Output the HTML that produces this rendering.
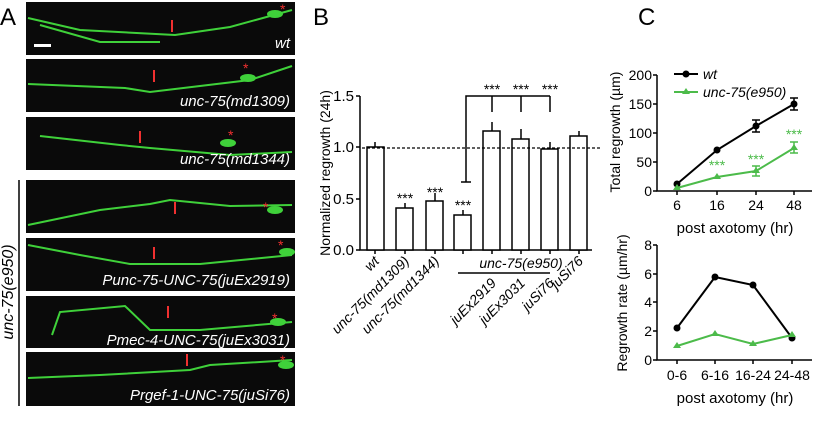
<!DOCTYPE html>
<html><head><meta charset="utf-8"><style>
html,body{margin:0;padding:0;background:#fff;}
svg{display:block;font-family:"Liberation Sans",Arial,sans-serif;}
</style></head><body>
<svg width="818" height="430" viewBox="0 0 818 430" xmlns="http://www.w3.org/2000/svg">
<!-- Panel A -->
<text x="0" y="25" font-size="24">A</text>
<g fill="#0a0a0a">
<rect x="26" y="2" width="269" height="53"/>
<rect x="26" y="59" width="269" height="53"/>
<rect x="26" y="117" width="269" height="53"/>
<rect x="26" y="180" width="269" height="53"/>
<rect x="26" y="238" width="269" height="53"/>
<rect x="26" y="296" width="269" height="52"/>
<rect x="26" y="352" width="269" height="54"/>
</g>
<g stroke="#3fd13a" fill="none" stroke-width="2">
<path d="M28,18 L80,30 L175,35 L230,27 L292,10"/>
<path d="M40,25 L100,42 L160,42"/>
<path d="M28,84 L125,88 L150,92 L200,86 L250,80 L292,66"/>
<path d="M40,136 L120,145 L150,148 L230,155 L292,152"/>
<path d="M28,225 L100,210 L150,204 L170,200 L230,206 L292,205"/>
<path d="M28,245 L80,255 L130,264 L200,264 L292,255"/>
<path d="M52,335 L60,312 L125,306 L150,330 L200,330 L292,322"/>
<path d="M28,378 L100,375 L190,370 L210,365 L292,360"/>
</g>
<g fill="#3fd13a"><ellipse cx="275" cy="14" rx="8" ry="4"/><ellipse cx="248" cy="78" rx="8" ry="4"/><ellipse cx="228" cy="143" rx="8" ry="4"/><ellipse cx="275" cy="210" rx="8" ry="4"/><ellipse cx="287" cy="252" rx="8" ry="4"/><ellipse cx="278" cy="322" rx="8" ry="4"/><ellipse cx="286" cy="365" rx="8" ry="4"/></g>
<g fill="#f03030" font-size="14">
<text x="280" y="14">*</text><text x="243" y="73">*</text><text x="228" y="140">*</text><text x="263" y="212">*</text><text x="278" y="250">*</text><text x="272" y="323">*</text><text x="280" y="365">*</text>
</g>
<g stroke="#f03030" stroke-width="2"><path d="M172,20v12M154,70v12M140,131v12M175,214v-12M154,247v12M168,306v12M187,354v12"/></g>
<rect x="34" y="44" width="17" height="3" fill="#fff"/>
<g fill="#fff" font-size="15" font-style="italic" text-anchor="end">
<text x="290" y="48">wt</text>
<text x="290" y="106">unc-75(md1309)</text>
<text x="290" y="164">unc-75(md1344)</text>
<text x="290" y="285">Punc-75-UNC-75(juEx2919)</text>
<text x="290" y="345">Pmec-4-UNC-75(juEx3031)</text>
<text x="290" y="400">Prgef-1-UNC-75(juSi76)</text>
</g>
<line x1="19" y1="180" x2="19" y2="406" stroke="#000" stroke-width="1.5"/>
<text transform="translate(13,292) rotate(-90)" font-size="16" font-style="italic" text-anchor="middle">unc-75(e950)</text>

<!-- Panel B -->
<text x="313" y="25" font-size="24">B</text>
<text transform="translate(330,173) rotate(-90)" font-size="14" text-anchor="middle">Normalized regrowth (24h)</text>
<g stroke="#000" stroke-width="1.5" fill="none">
<path d="M360,96V250H592"/>
<path d="M356,96h4M356,147h4M356,199h4M356,250h4"/>
<path d="M375,250v4M405,250v4M435,250v4M463,250v4M492,250v4M521,250v4M550,250v4M579,250v4"/>
</g>
<g fill="#000" font-size="15" text-anchor="end">
<text x="354" y="101">1.5</text><text x="354" y="152">1.0</text><text x="354" y="204">0.5</text><text x="354" y="255">0.0</text>
</g>
<g stroke="#000" stroke-width="1.5" fill="#fff">
<rect x="367" y="147" width="17" height="103"/>
<rect x="396" y="208" width="17" height="42"/>
<rect x="426" y="201" width="17" height="49"/>
<rect x="454" y="215" width="17" height="35"/>
<rect x="483" y="131" width="17" height="119"/>
<rect x="512" y="139" width="17" height="111"/>
<rect x="541" y="149" width="17" height="101"/>
<rect x="570" y="136" width="17" height="114"/>
</g>
<g stroke="#000" stroke-width="1.5" fill="none">
<path d="M375,147v-5M405,208v-5M435,201v-8M463,215v-5M492,131v-9M521,139v-10M550,149v-7M579,136v-5"/>
<path d="M461,182h10M466,182V96H550M492,96v16M521,96v16M550,96v16"/>
</g>
<line x1="362" y1="148" x2="600" y2="148" stroke="#000" stroke-width="1.2" stroke-dasharray="3,2"/>
<g font-size="14" text-anchor="middle" fill="#000">
<text x="405" y="203">***</text><text x="435" y="197">***</text><text x="463" y="210">***</text>
<text x="492" y="94">***</text><text x="521" y="94">***</text><text x="550" y="94">***</text>
</g>
<g font-size="14" font-style="italic" text-anchor="end" fill="#000">
<text transform="translate(380,262) rotate(-45)">wt</text>
<text transform="translate(410,262) rotate(-45)">unc-75(md1309)</text>
<text transform="translate(440,262) rotate(-45)">unc-75(md1344)</text>
<text transform="translate(497,284) rotate(-45)">juEx2919</text>
<text transform="translate(526,284) rotate(-45)">juEx3031</text>
<text transform="translate(555,284) rotate(-45)">juSi76</text>
<text transform="translate(584,262) rotate(-45)">juSi76</text>
</g>
<text x="521" y="268" font-size="14" font-style="italic" text-anchor="middle">unc-75(e950)</text>
<line x1="458" y1="273" x2="550" y2="273" stroke="#000" stroke-width="1.5"/>

<!-- Panel C -->
<text x="638" y="25" font-size="24">C</text>
<text transform="translate(620,132) rotate(-90)" font-size="14" text-anchor="middle">Total regrowth (µm)</text>
<g stroke="#000" stroke-width="1.5" fill="none">
<path d="M657,75V191H812"/>
<path d="M653,75h4M653,104h4M653,133h4M653,162h4M653,191h4"/>
<path d="M677,191v4M717,191v4M756,191v4M794,191v4"/>
</g>
<g font-size="14" text-anchor="end"><text x="652" y="80">200</text><text x="652" y="109">150</text><text x="652" y="138">100</text><text x="652" y="167">50</text><text x="652" y="196">0</text></g>
<g font-size="14" text-anchor="middle"><text x="677" y="210">6</text><text x="717" y="210">16</text><text x="756" y="210">24</text><text x="794" y="210">48</text></g>
<text x="735" y="233" font-size="15" text-anchor="middle">post axotomy (hr)</text>
<polyline points="677,184 717,150 756,126 794,104" stroke="#000" stroke-width="2" fill="none"/>
<g stroke="#000" stroke-width="1.5"><path d="M756,120v12M752,120h8M752,132h8M794,98v12M790,98h8M790,110h8"/></g>
<g fill="#000"><circle cx="677" cy="184" r="3.5"/><circle cx="717" cy="150" r="3.5"/><circle cx="756" cy="126" r="3.5"/><circle cx="794" cy="104" r="3.5"/></g>
<polyline points="677,188 717,177 756,171 794,148" stroke="#4cbb4a" stroke-width="2" fill="none"/>
<g stroke="#4cbb4a" stroke-width="1.5"><path d="M756,166v10M752,166h8M752,176h8M794,142v11M790,142h8M790,153h8"/></g>
<g fill="#4cbb4a"><path d="M677,184l4,6h-8z M717,173l4,6h-8z M756,167l4,6h-8z M794,144l4,6h-8z"/></g>
<g fill="#4cbb4a" font-size="14" text-anchor="middle"><text x="717" y="170">***</text><text x="756" y="164">***</text><text x="794" y="139">***</text></g>
<line x1="674" y1="74" x2="698" y2="74" stroke="#000" stroke-width="2"/><circle cx="686" cy="74" r="3.5"/>
<text x="703" y="79" font-size="14" font-style="italic">wt</text>
<line x1="674" y1="92" x2="698" y2="92" stroke="#4cbb4a" stroke-width="2"/><path d="M686,88l4,6h-8z" fill="#4cbb4a"/>
<text x="703" y="97" font-size="14" font-style="italic">unc-75(e950)</text>

<text transform="translate(627,303) rotate(-90)" font-size="14" text-anchor="middle">Regrowth rate (µm/hr)</text>
<g stroke="#000" stroke-width="1.5" fill="none">
<path d="M657,245V360H812"/>
<path d="M653,245h4M653,274h4M653,302h4M653,331h4M653,360h4"/>
<path d="M677,360v4M715,360v4M753,360v4M792,360v4"/>
</g>
<g font-size="14" text-anchor="end"><text x="652" y="250">8</text><text x="652" y="279">6</text><text x="652" y="307">4</text><text x="652" y="336">2</text><text x="652" y="365">0</text></g>
<g font-size="14" text-anchor="middle"><text x="677" y="380">0-6</text><text x="715" y="380">6-16</text><text x="753" y="380">16-24</text><text x="792" y="380">24-48</text></g>
<text x="735" y="403" font-size="15" text-anchor="middle">post axotomy (hr)</text>
<polyline points="677,328 715,277 753,285 792,338" stroke="#000" stroke-width="2" fill="none"/>
<g fill="#000"><circle cx="677" cy="328" r="3.5"/><circle cx="715" cy="277" r="3.5"/><circle cx="753" cy="285" r="3.5"/><circle cx="792" cy="338" r="3.5"/></g>
<polyline points="677,346 715,334 753,344 792,335" stroke="#4cbb4a" stroke-width="2" fill="none"/>
<g fill="#4cbb4a"><path d="M677,342l4,6h-8z M715,330l4,6h-8z M753,340l4,6h-8z M792,331l4,6h-8z"/></g>
</svg>
</body></html>
